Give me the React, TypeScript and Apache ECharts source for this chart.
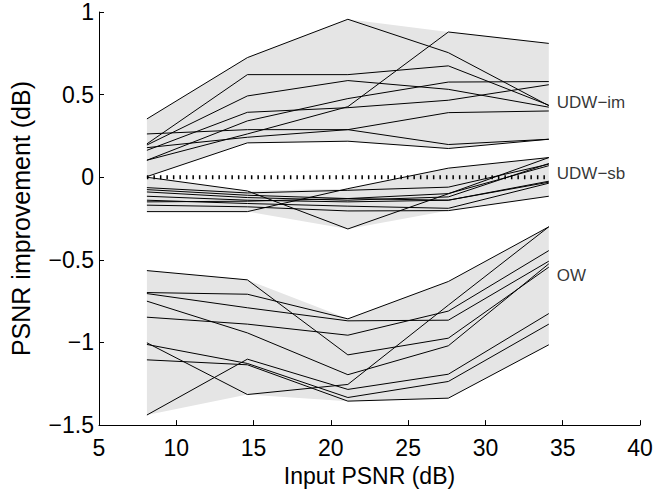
import React, { useEffect, useRef } from "react";
import * as echarts from "echarts";

// Input PSNR (dB) at which every run was evaluated
const inputPsnr = [8.1, 14.6, 21.1, 27.6, 34.1];

// PSNR improvement (dB) – UDW-im runs
const udwIm1 = [0.353, 0.724, 0.956, 0.754, 0.433];
const udwIm2 = [0.103, 0.262, 0.427, 0.879, 0.81];
const udwIm3 = [0.202, 0.621, 0.621, 0.674, 0.436];
const udwIm4 = [0.195, 0.492, 0.585, 0.532, 0.424];
const udwIm5 = [0.163, 0.393, 0.421, 0.466, 0.56];
const udwIm6 = [0.103, 0.341, 0.476, 0.576, 0.579];
const udwIm7 = [0.262, 0.288, 0.288, 0.198, 0.23];
const udwIm8 = [0.179, 0.242, 0.288, 0.391, 0.401];
const udwIm9 = [0.004, 0.208, 0.218, 0.174, 0.23];

// PSNR improvement (dB) – UDW-sb runs
const udwSb1 = [0.0, -0.083, -0.313, -0.1, 0.119];
const udwSb2 = [-0.208, -0.208, -0.069, 0.055, 0.119];
const udwSb3 = [-0.063, -0.095, -0.079, -0.06, 0.079];
const udwSb4 = [-0.075, -0.109, -0.129, -0.099, 0.07];
const udwSb5 = [-0.089, -0.123, -0.139, -0.119, 0.083];
const udwSb6 = [-0.115, -0.139, -0.149, -0.139, -0.024];
const udwSb7 = [-0.139, -0.159, -0.175, -0.188, -0.036];
const udwSb8 = [-0.149, -0.145, -0.129, -0.139, -0.03];
const udwSb9 = [-0.169, -0.179, -0.204, -0.202, -0.115];

// PSNR improvement (dB) – OW runs
const ow1 = [-0.565, -0.621, -1.075, -0.974, -0.544];
const ow2 = [-0.698, -0.708, -0.857, -0.631, -0.3];
const ow3 = [-0.704, -0.79, -0.869, -0.865, -0.508];
const ow4 = [-0.75, -0.942, -1.195, -1.02, -0.524];
const ow5 = [-0.847, -0.889, -0.956, -0.81, -0.444];
const ow6 = [-1.002, -1.315, -1.254, -0.774, -0.3];
const ow7 = [-1.012, -1.127, -1.333, -1.236, -0.889];
const ow8 = [-1.105, -1.135, -1.355, -1.337, -1.014];
const ow9 = [-1.439, -1.101, -1.284, -1.192, -0.825];

// dotted zero reference
const zeroLine = [0, 0, 0, 0, 0];

// group labels and the improvement value they sit at (right of last point)
const groupNames = ["UDW\u2212im", "UDW\u2212sb", "OW"];
const groupLabelValues = [0.452, 0.02, -0.593];

const udwImRuns = [udwIm1, udwIm2, udwIm3, udwIm4, udwIm5, udwIm6, udwIm7, udwIm8, udwIm9];
const udwSbRuns = [udwSb1, udwSb2, udwSb3, udwSb4, udwSb5, udwSb6, udwSb7, udwSb8, udwSb9];
const owRuns = [ow1, ow2, ow3, ow4, ow5, ow6, ow7, ow8, ow9];

const FONT = "'Liberation Sans', Arial, Helvetica, sans-serif";

// min/max envelope of a group, drawn as one polygon through the axes' scales
function bandSeries(runs: number[][]) {
  const data = inputPsnr.map((x, i) => [
    x,
    Math.min(...runs.map((r) => r[i])),
    Math.max(...runs.map((r) => r[i])),
  ]);
  return {
    type: "custom",
    data,
    silent: true,
    z: 1,
    encode: { x: 0, y: [1, 2] },
    renderItem: (params: any, api: any) => {
      if (params.dataIndexInside !== 0) return null;
      const n = params.dataInsideLength;
      const upper: number[][] = [];
      const lower: number[][] = [];
      for (let j = 0; j < n; j++) {
        const x = api.value(0, j);
        lower.push(api.coord([x, api.value(1, j)]));
        upper.push(api.coord([x, api.value(2, j)]));
      }
      return {
        type: "polygon",
        shape: { points: upper.concat(lower.reverse()) },
        style: { fill: "#e5e5e5", stroke: "none" },
      };
    },
  };
}

function runSeries(runs: number[][]) {
  return runs.map((r) => ({
    type: "line",
    data: inputPsnr.map((x, i) => [x, r[i]]),
    symbol: "none",
    silent: true,
    lineStyle: { color: "#000", width: 1 },
    z: 3,
  }));
}

export default function App() {
  const ref = useRef<HTMLDivElement>(null);
  useEffect(() => {
    document.body.style.margin = "0";
    if (!ref.current) return;
    const chart = echarts.init(ref.current, undefined, { renderer: "svg" });
    const minus = (v: number) => String(v).replace("-", "\u2212");
    chart.setOption({
      animation: false,
      backgroundColor: "#fff",
      grid: { left: 99, right: 30, top: 12, bottom: 59 },
      xAxis: {
        type: "value",
        min: 5,
        max: 40,
        interval: 5,
        name: "Input PSNR (dB)",
        nameLocation: "middle",
        nameGap: 36,
        nameTextStyle: { fontSize: 23, color: "#000", fontFamily: FONT },
        axisLine: { onZero: false, lineStyle: { color: "#000", width: 1 } },
        axisTick: { inside: true, length: 5, lineStyle: { color: "#000" } },
        axisLabel: { fontSize: 23, color: "#000", margin: 11, fontFamily: FONT, formatter: minus },
        splitLine: { show: false },
      },
      yAxis: {
        type: "value",
        min: -1.5,
        max: 1,
        interval: 0.5,
        name: "PSNR improvement (dB)",
        nameLocation: "middle",
        nameGap: 66,
        nameTextStyle: { fontSize: 25, color: "#000", fontFamily: FONT },
        axisLine: { show: true, onZero: false, lineStyle: { color: "#000", width: 1 } },
        axisTick: { show: true, inside: true, length: 5, lineStyle: { color: "#000" } },
        axisLabel: {
          fontSize: 23,
          color: "#000",
          margin: 5,
          fontFamily: FONT,
          padding: [12, 0, 0, 0],
          formatter: minus,
        },
        splitLine: { show: false },
      },
      series: [
        bandSeries(udwImRuns),
        bandSeries(udwSbRuns),
        bandSeries(owRuns),
        ...runSeries(udwImRuns),
        ...runSeries(udwSbRuns),
        ...runSeries(owRuns),
        {
          type: "line",
          data: inputPsnr.map((x, i) => [x, zeroLine[i]]),
          symbol: "none",
          silent: true,
          lineStyle: { color: "#000", width: 4, type: [1.5, 5] },
          z: 4,
        },
        {
          type: "scatter",
          data: groupNames.map((n, i) => [inputPsnr[inputPsnr.length - 1], groupLabelValues[i], n]),
          symbolSize: 0,
          silent: true,
          label: {
            show: true,
            position: "right",
            distance: 8,
            formatter: (p: any) => p.data[2],
            fontSize: 17,
            color: "#000",
            fontFamily: FONT,
          },
          z: 5,
        },
      ],
    });
    return () => chart.dispose();
  }, []);
  return <div ref={ref} style={{ width: 670, height: 492 }} />;
}
